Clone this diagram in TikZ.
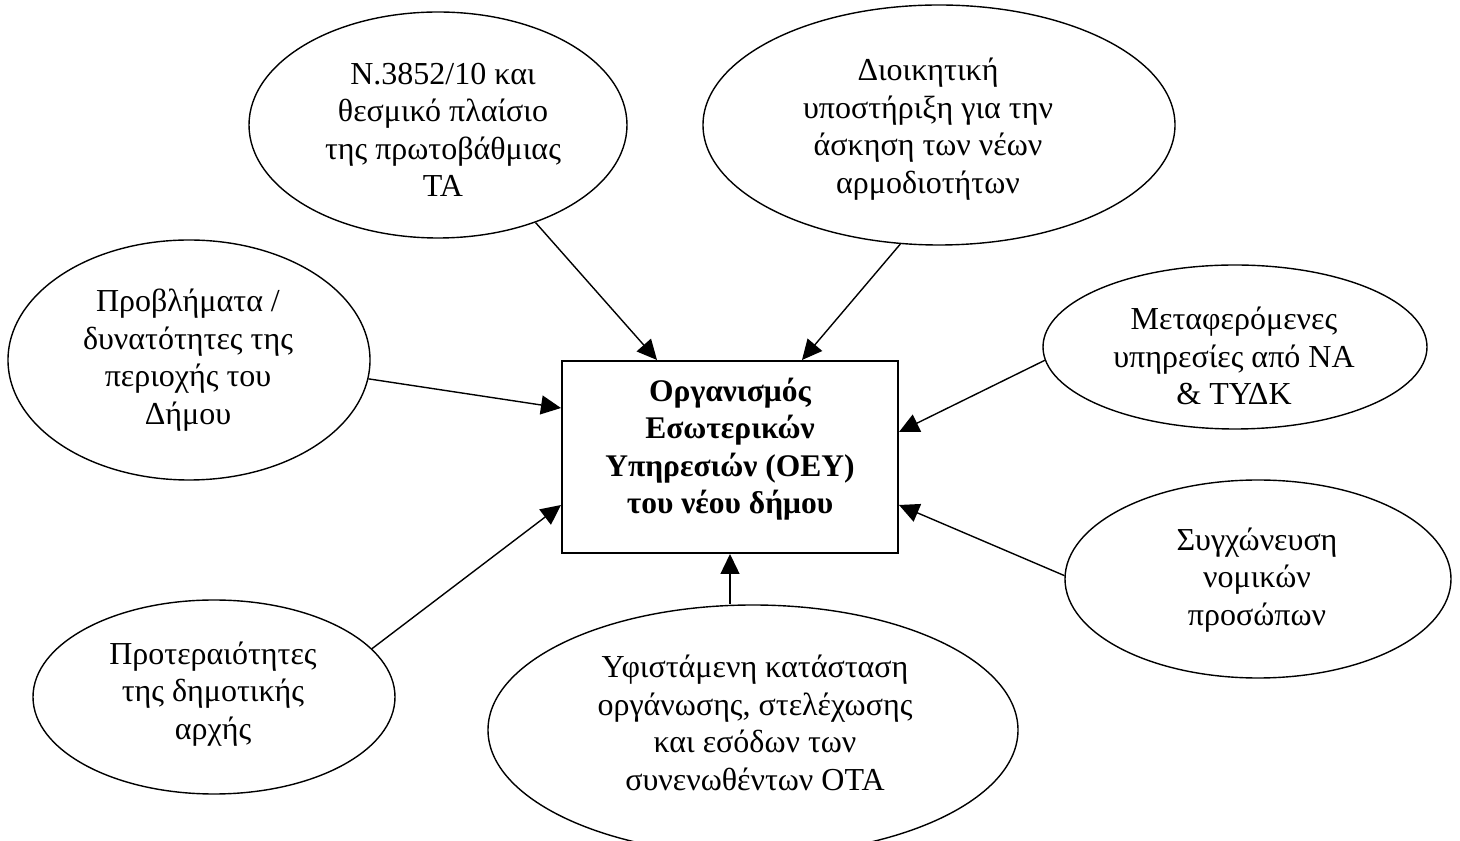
\documentclass[tikz,border=0pt]{standalone}
\usepackage{fontspec}
\setmainfont{Liberation Serif}
\usetikzlibrary{arrows.meta,shapes.geometric,calc}
\begin{document}
\begin{tikzpicture}[x=1pt,y=1pt,
  bub/.style={draw, ellipse, line width=1.4pt, inner sep=0pt},
  lbl/.style={align=center, inner sep=0pt, font=\fontsize{32}{37.5}\selectfont},
  arr/.style={-{Triangle[length=20pt,width=19pt]}, line width=1.4pt},
]
\useasboundingbox (0,0) rectangle (1460,841);

% central box
\node[draw, line width=2pt, minimum width=336pt, minimum height=192pt, inner sep=0pt] (box) at (730,384) {};
\node[lbl, font=\fontsize{31.5}{37.5}\selectfont\bfseries] (boxt) at (730,392) {Οργανισμός\\Εσωτερικών\\Υπηρεσιών (ΟΕΥ)\\του νέου δήμου};

% ellipses
\node[bub, minimum width=378pt, minimum height=226pt] (e1) at (438,716) {};
\node[lbl] (e1t) at (443,711) {Ν.3852/10 και\\θεσμικό πλαίσιο\\της πρωτοβάθμιας\\ΤΑ};

\node[bub, minimum width=472pt, minimum height=240pt] (e2) at (939,716) {};
\node[lbl] (e2t) at (928,712) {Διοικητική\\υποστήριξη για την\\άσκηση των νέων\\αρμοδιοτήτων};

\node[bub, minimum width=362pt, minimum height=240pt] (e3) at (189,481) {};
\node[lbl] (e3t) at (188,481) {Προβλήματα /\\δυνατότητες της\\περιοχής του\\Δήμου};

\node[bub, minimum width=384pt, minimum height=164pt] (e4) at (1235,494) {};
\node[lbl] (e4t) at (1234,485) {Μεταφερόμενες\\υπηρεσίες από ΝΑ\\\& ΤΥΔΚ};

\node[bub, minimum width=386pt, minimum height=198pt] (e5) at (1258,262) {};
\node[lbl] (e5t) at (1257,261) {Συγχώνευση\\νομικών\\προσώπων};

\node[bub, minimum width=362pt, minimum height=194pt] (e6) at (214,144) {};
\node[lbl] (e6t) at (213,147) {Προτεραιότητες\\της δημοτικής\\αρχής};

\node[bub, minimum width=530pt, minimum height=250pt] (e7) at (753,111) {};
\node[lbl] (e7t) at (755,118) {Υφιστάμενη κατάσταση\\οργάνωσης, στελέχωσης\\και εσόδων των\\συνενωθέντων ΟΤΑ};

% connectors
\draw[arr] (e1.-45.3) -- ($(box.north west)+(96,0)$);
\draw[arr] (e2.-108.9) -- ($(box.north west)+(241,0)$);
\draw[arr] (e3.-6.9) -- ($(box.north west)+(0,-48)$);
\draw[arr] (e6.17.2) -- ($(box.north west)+(0,-145)$);
\draw[arr] (e4.184.5) -- ($(box.north east)+(0,-72)$);
\draw[arr] (e5.179.4) -- ($(box.north east)+(0,-145)$);
\draw[arr] (e7.north -| box.south) -- (box.south);
\end{tikzpicture}
\end{document}
